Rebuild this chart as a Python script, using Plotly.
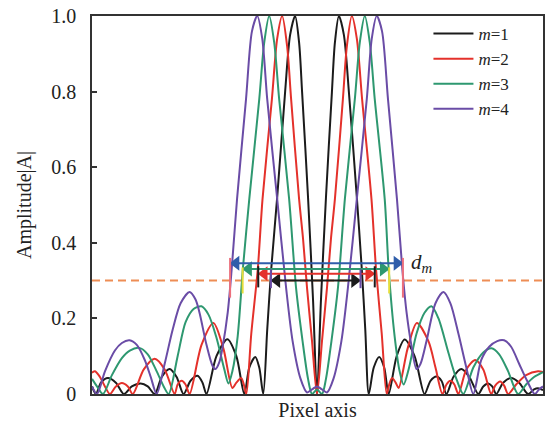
import plotly.graph_objects as go

# Pixel-axis position (0 = centre of the pattern) and amplitude |A|
x_m1 = [-226, -222, -217, -210, -202, -194, -186, -177, -170, -163, -156, -148, -141, -134, -127, -120, -115, -111,
        -101, -90, -81, -73, -68, -62, -58, -54, -50, -46, -40, -32, -27, -22, -18, -15, -9, -4, 0,
        4, 9, 15, 18, 22, 27, 32, 40, 45, 48.5, 52, 57, 62.5, 67.5, 72, 80, 88, 98, 108, 114, 120, 125, 130,
        137, 145, 153, 162, 167, 172, 176, 180, 187, 195, 203, 212, 218, 222, 227]
y_m1 = [0.02, 0.0, 0.03, 0.042, 0.03, 0.0, 0.02, 0.028, 0.02, 0.0, 0.045, 0.066, 0.045, 0.0, 0.035, 0.048, 0.03, 0.0,
        0.10, 0.145, 0.10, 0.0, 0.07, 0.098, 0.07, 0.0, 0.17, 0.33, 0.52, 0.80, 0.95, 1.0, 0.93, 0.80, 0.52, 0.25, 0.0,
        0.25, 0.52, 0.80, 0.93, 1.0, 0.95, 0.80, 0.52, 0.33, 0.17, 0.0, 0.07, 0.098, 0.07, 0.0, 0.10, 0.144, 0.10, 0.0,
        0.035, 0.046, 0.035, 0.0, 0.045, 0.066, 0.045, 0.0, 0.02, 0.028, 0.02, 0.0, 0.03, 0.042, 0.03, 0.0, 0.012,
        0.015, 0.01]

x_m2 = [-226, -223, -218, -213, -208, -202, -196, -190, -185, -174, -163, -153, -143, -140, -136, -132, -128,
        -116, -104, -94, -85, -81, -76, -73.5, -71, -66, -59.5, -54.7, -45.3, -40, -35, -30, -26, -18, -14, -10,
        -5, 0, 5, 10, 14, 18, 26, 30, 35, 40, 45.3, 54.7, 59.3, 65, 70, 72.5, 75.3, 79, 82, 91, 100.3, 112, 119,
        126, 130, 134, 138, 142, 150, 159, 167, 175, 179, 184, 188, 192, 200, 210, 222, 227]
y_m2 = [0.056, 0.06, 0.045, 0.02, 0.0, 0.02, 0.029, 0.02, 0.0, 0.065, 0.093, 0.065, 0.0, 0.025, 0.035, 0.025, 0.0,
        0.13, 0.188, 0.12, 0.016, 0.03, 0.042, 0.025, 0.0, 0.16, 0.33, 0.516, 0.78, 0.94, 1.0, 0.92, 0.78, 0.516,
        0.41, 0.28, 0.14, 0.0, 0.14, 0.28, 0.41, 0.516, 0.78, 0.92, 1.0, 0.94, 0.78, 0.516, 0.33, 0.16, 0.0, 0.025,
        0.042, 0.03, 0.016, 0.12, 0.188, 0.139, 0.07, 0.0, 0.025, 0.035, 0.025, 0.0, 0.065, 0.09, 0.065, 0.0,
        0.022, 0.033, 0.022, 0.0, 0.025, 0.05, 0.06, 0.058]

x_m3 = [-226, -221, -215, -206, -196, -188, -178.5, -170, -161, -154, -149, -140, -132, -124, -116, -109, -101.3,
        -93, -89, -85, -79.7, -74.5, -68, -58, -53, -48, -43, -38, -28, -21, -14.5, -9, -5, 0,
        5, 9, 14.5, 21, 28, 38, 43, 48, 53, 58, 68, 72, 78, 83, 87, 92, 100, 108, 115, 122, 132, 140, 147,
        157, 167, 175.3, 183, 192, 202, 210, 218, 227]
y_m3 = [0.04, 0.02, 0.0, 0.05, 0.095, 0.115, 0.122, 0.105, 0.06, 0.02, 0.0, 0.10, 0.19, 0.225, 0.232, 0.21, 0.152,
        0.064, 0.028, 0.06, 0.152, 0.33, 0.516, 0.78, 0.93, 1.0, 0.93, 0.78, 0.516, 0.28, 0.14, 0.04, 0.0, 0.012,
        0.0, 0.04, 0.14, 0.28, 0.516, 0.78, 0.93, 1.0, 0.93, 0.78, 0.516, 0.33, 0.152, 0.06, 0.025, 0.065, 0.16,
        0.215, 0.232, 0.20, 0.109, 0.04, 0.0, 0.07, 0.11, 0.121, 0.105, 0.06, 0.0, 0.025, 0.045, 0.058]

x_m4 = [-226, -221, -213, -203, -196, -188.3, -181, -173, -167, -161, -153, -145, -137, -128, -122, -118, -111,
        -105, -102, -98, -94.7, -89.7, -85.7, -80.3, -71.3, -65.3, -60, -55, -50, -40, -31, -24.5, -16.5, -10,
        -5, 0, 5, 10, 16.5, 24.5, 31, 40, 50, 55, 60, 65.3, 71.3, 80.3, 85.7, 90, 95, 100, 104, 110, 119, 127,
        134, 142, 150, 157, 165, 173, 181, 188, 195, 203, 211, 218.7, 223, 227]
y_m4 = [0.02, 0.0, 0.06, 0.115, 0.135, 0.142, 0.13, 0.09, 0.045, 0.0, 0.08, 0.17, 0.24, 0.27, 0.25, 0.215, 0.13,
        0.075, 0.066, 0.085, 0.126, 0.215, 0.33, 0.516, 0.78, 0.96, 1.0, 0.94, 0.78, 0.516, 0.28, 0.14, 0.04,
        0.004, 0.012, 0.02, 0.012, 0.004, 0.04, 0.14, 0.28, 0.516, 0.78, 0.94, 1.0, 0.96, 0.78, 0.516, 0.33,
        0.215, 0.126, 0.066, 0.08, 0.14, 0.24, 0.27, 0.24, 0.16, 0.07, 0.0, 0.09, 0.125, 0.14, 0.142, 0.125,
        0.08, 0.035, 0.0, 0.012, 0.02]

series_names = ["<i>m</i>=1", "<i>m</i>=2", "<i>m</i>=3", "<i>m</i>=4"]
threshold = 0.3

# width arrows d_m (m = 1..4): left end, right end, level
arrow_left = [-46.3, -59.0, -74.7, -87.3]
arrow_right = [43.7, 58.0, 72.5, 86.3]
arrow_level = [0.300, 0.318, 0.331, 0.346]
# short end markers of the arrows
mark_lo = [0.28, 0.282, 0.266, 0.255]
mark_hi = [0.33, 0.338, 0.335, 0.36]

y_ticks = [0, 0.2, 0.4, 0.6, 0.8, 1.0]
y_tick_text = ["0", "0.2", "0.4", "0.6", "0.8", "1.0"]

curve_colors = ["#1b1b1b", "#E4312B", "#2E9870", "#6A4CA6"]
arrow_colors = ["#1b1b1b", "#E4312B", "#2E9870", "#2F5DAA"]
mark_colors = ["#6A4CA6", "#1b1b1b", "#E6DE3A", "#EC6F7C"]

FONT = "Liberation Serif"
HEAD = 6  # half size of arrow head marker (px == data units here)

fig = go.Figure()
for xs, ys, name, col in zip([x_m1, x_m2, x_m3, x_m4], [y_m1, y_m2, y_m3, y_m4], series_names, curve_colors):
    fig.add_trace(go.Scatter(x=xs, y=ys, mode="lines", name=name, hoverinfo="skip",
                             line=dict(color=col, width=2, shape="spline", smoothing=0.8)))

fig.add_shape(type="line", xref="paper", x0=0, x1=1, yref="y", y0=threshold, y1=threshold,
              line=dict(color="#EE8D55", width=2, dash="8px,5px"), layer="below")

for xl, xr, lv, lo, hi, ac, mc in zip(arrow_left, arrow_right, arrow_level, mark_lo, mark_hi,
                                      arrow_colors, mark_colors):
    for xe in (xl, xr):
        fig.add_shape(type="line", xref="x", yref="y", x0=xe, x1=xe, y0=lo, y1=hi,
                      line=dict(color=mc, width=2), layer="above")
    fig.add_trace(go.Scatter(x=[xl + HEAD, xr - HEAD], y=[lv, lv], mode="lines+markers", showlegend=False,
                             hoverinfo="skip", line=dict(color=ac, width=2),
                             marker=dict(symbol=["triangle-left", "triangle-right"], size=13, color=ac,
                                         line=dict(width=0))))

fig.add_annotation(x=arrow_right[3] + 6, y=arrow_level[3], xref="x", yref="y", xanchor="left", yanchor="middle",
                   text="<i>d</i><sub><i>m</i></sub>", showarrow=False,
                   font=dict(family=FONT, size=21, color="#222"))

fig.update_layout(
    width=548, height=428,
    margin=dict(l=92, r=3, t=16, b=34),
    paper_bgcolor="white", plot_bgcolor="white",
    font=dict(family=FONT, size=20, color="#222"),
    showlegend=True,
    legend=dict(x=0.746, y=1.0, xanchor="left", yanchor="top", bgcolor="rgba(0,0,0,0)",
                font=dict(family=FONT, size=17, color="#222"), itemwidth=40, tracegroupgap=0),
    xaxis=dict(range=[-226, 227], showgrid=False, zeroline=False, showticklabels=False, ticks="",
               showline=True, linecolor="#333", linewidth=1.5, mirror=True,
               title=dict(text="Pixel axis", standoff=8, font=dict(family=FONT, size=20, color="#222"))),
    yaxis=dict(range=[0, 1.0], showgrid=False, zeroline=False, tickvals=y_ticks, ticktext=y_tick_text,
               ticks="inside", ticklen=5, tickcolor="#333", tickwidth=1.5,
               showline=True, linecolor="#333", linewidth=1.5, mirror=True, ticklabelstandoff=10,
               title=dict(text="Amplitude|A|", standoff=14, font=dict(family=FONT, size=20, color="#222"))),
)

fig.write_html("out.html", config={"displayModeBar": False},
               post_script="document.body.style.margin='0';document.body.style.overflow='hidden';")
